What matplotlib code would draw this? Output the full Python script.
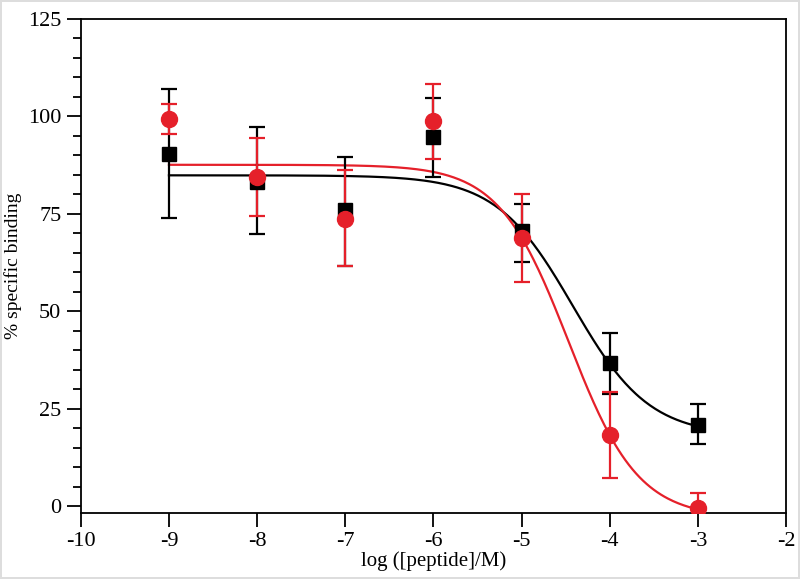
import numpy as np
import matplotlib
matplotlib.use('Agg')
import matplotlib.pyplot as plt
from matplotlib.ticker import MultipleLocator

# log concentration
log_conc = [-9, -8, -7, -6, -5, -4, -3]

# black series (squares)
black_y = [90.3, 83.2, 75.8, 94.5, 70.6, 36.6, 20.8]
black_hi = [107.0, 97.3, 89.6, 104.5, 77.4, 44.3, 26.1]
black_lo = [73.9, 69.7, 61.6, 84.4, 62.5, 28.7, 15.8]

# red series (circles)
red_y = [99.2, 84.4, 73.6, 98.8, 68.8, 18.2, -0.6]
red_hi = [103.0, 94.3, 86.2, 108.2, 79.9, 29.3, 3.3]
red_lo = [95.3, 74.4, 61.5, 89.0, 57.4, 7.1, -4.5]

# fitted sigmoid parameters: top, bottom, log IC50, hill slope
black_fit = (84.8, 18.0, -4.42, 1.0)
red_fit = (87.5, -3.0, -4.468, 1.099)

RED = '#e5202a'


def sigmoid(x, top, bottom, logc, hill):
	return bottom + (top - bottom) / (1 + 10 ** ((x - logc) * hill))


def draw(ax, y, lo, hi, fit, color, marker, ms):
	y = np.array(y)
	err = [y - np.array(lo), np.array(hi) - y]
	xs = np.linspace(-9, -3, 300)
	ax.plot(xs, sigmoid(xs, *fit), color=color, lw=1.6, zorder=2)
	ax.errorbar(log_conc, y, yerr=err, fmt=marker, color=color, ms=ms,
		ecolor=color, elinewidth=1.6, capsize=5.5, capthick=1.6, zorder=3)


plt.rcParams['font.family'] = ['Liberation Serif', 'DejaVu Serif']
plt.rcParams['axes.unicode_minus'] = False
fig = plt.figure(figsize=(8, 5.79), dpi=100)
fig.patch.set_edgecolor('#dddddd')
fig.patch.set_linewidth(1.5)
ax = fig.add_axes([0.101, 0.1145, 0.8815, 0.8535])

draw(ax, black_y, black_lo, black_hi, black_fit, 'black', 's', 9.5)
draw(ax, red_y, red_lo, red_hi, red_fit, RED, 'o', 11.5)

ax.set_xlim(-10, -2)
ax.set_ylim(-1.7, 125)
ax.xaxis.set_major_locator(MultipleLocator(1))
ax.yaxis.set_major_locator(MultipleLocator(25))
ax.yaxis.set_minor_locator(MultipleLocator(5))
ax.tick_params(axis='both', direction='out', length=10, width=1.3, labelsize=16, pad=4)
ax.tick_params(axis='y', which='minor', direction='out', length=6, width=1.3)
ax.tick_params(top=False, right=False)
for s in ax.spines.values():
	s.set_linewidth(1.3)

ax.set_xlabel('log ([peptide]/M)', fontsize=15, labelpad=0)
ax.set_ylabel('% specific binding', fontsize=14, labelpad=4)

fig.savefig('out.png', dpi=100)
plt.close()
